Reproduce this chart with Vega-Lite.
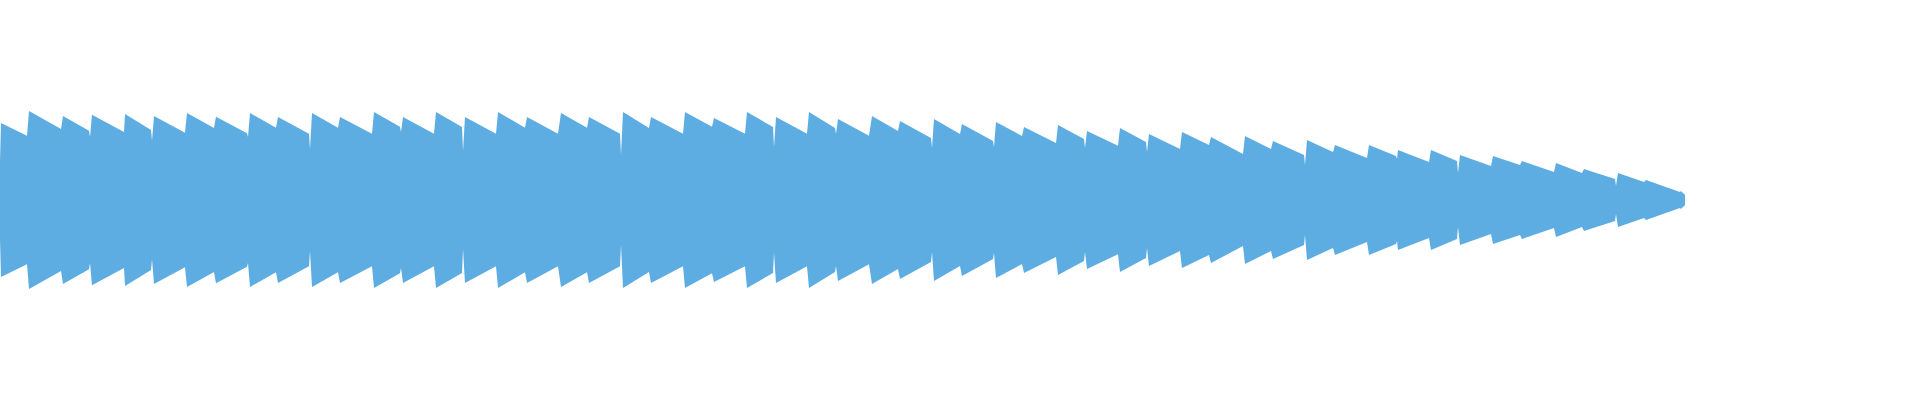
{
  "$schema": "https://vega.github.io/schema/vega-lite/v6.json",
  "width": 1920,
  "height": 400,
  "padding": 0,
  "autosize": {"type": "fit", "contains": "padding"},
  "background": "#ffffff",
  "config": {"view": {"stroke": null}},
  "data": {
    "values": [
      {"x": 0, "v": 78}, {"x": 1, "v": 154}, {"x": 27, "v": 128.6}, {"x": 29, "v": 178},
      {"x": 61, "v": 142}, {"x": 63, "v": 168}, {"x": 89, "v": 138.6}, {"x": 90, "v": 126},
      {"x": 92, "v": 170.6}, {"x": 124, "v": 136}, {"x": 125, "v": 172}, {"x": 151, "v": 140},
      {"x": 152, "v": 118.6}, {"x": 154, "v": 168}, {"x": 185, "v": 134.6}, {"x": 187, "v": 174},
      {"x": 214, "v": 144}, {"x": 216, "v": 166.6}, {"x": 247, "v": 133.4}, {"x": 248, "v": 126},
      {"x": 250, "v": 174}, {"x": 276, "v": 144.6}, {"x": 278, "v": 166}, {"x": 309, "v": 132.6},
      {"x": 310, "v": 102}, {"x": 312, "v": 174}, {"x": 338, "v": 144.6}, {"x": 340, "v": 166},
      {"x": 372, "v": 132.6}, {"x": 374, "v": 176}, {"x": 400, "v": 146.6}, {"x": 401, "v": 136},
      {"x": 403, "v": 166}, {"x": 434, "v": 132.6}, {"x": 436, "v": 176}, {"x": 462, "v": 146},
      {"x": 463, "v": 98}, {"x": 465, "v": 166}, {"x": 496, "v": 132.6}, {"x": 498, "v": 176},
      {"x": 525, "v": 144.6}, {"x": 527, "v": 166}, {"x": 558, "v": 132.6}, {"x": 561, "v": 174},
      {"x": 587, "v": 144.6}, {"x": 589, "v": 166}, {"x": 620, "v": 132.6}, {"x": 621, "v": 90},
      {"x": 623, "v": 176}, {"x": 649, "v": 144}, {"x": 651, "v": 166}, {"x": 683, "v": 132.6},
      {"x": 685, "v": 176}, {"x": 712, "v": 146.6}, {"x": 714, "v": 164}, {"x": 745, "v": 132.6},
      {"x": 747, "v": 176}, {"x": 773, "v": 146}, {"x": 774, "v": 106}, {"x": 776, "v": 166},
      {"x": 807, "v": 132.6}, {"x": 809, "v": 176}, {"x": 835, "v": 144}, {"x": 836, "v": 132},
      {"x": 838, "v": 162}, {"x": 869, "v": 128.6}, {"x": 872, "v": 168}, {"x": 898, "v": 138},
      {"x": 900, "v": 158}, {"x": 931, "v": 124}, {"x": 932, "v": 104}, {"x": 934, "v": 162},
      {"x": 960, "v": 132}, {"x": 962, "v": 152}, {"x": 993, "v": 118}, {"x": 994, "v": 106},
      {"x": 996, "v": 156}, {"x": 1022, "v": 128}, {"x": 1024, "v": 146}, {"x": 1056, "v": 114},
      {"x": 1058, "v": 150}, {"x": 1084, "v": 122}, {"x": 1085, "v": 104}, {"x": 1087, "v": 138},
      {"x": 1118, "v": 108.6}, {"x": 1120, "v": 144}, {"x": 1146, "v": 116}, {"x": 1147, "v": 96},
      {"x": 1149, "v": 132}, {"x": 1180, "v": 102}, {"x": 1182, "v": 136}, {"x": 1209, "v": 110},
      {"x": 1211, "v": 126}, {"x": 1243, "v": 92}, {"x": 1245, "v": 128}, {"x": 1271, "v": 102},
      {"x": 1273, "v": 118}, {"x": 1304, "v": 90}, {"x": 1305, "v": 70}, {"x": 1307, "v": 120},
      {"x": 1333, "v": 96}, {"x": 1335, "v": 110}, {"x": 1367, "v": 84}, {"x": 1369, "v": 110},
      {"x": 1396, "v": 88}, {"x": 1397, "v": 82}, {"x": 1398, "v": 100}, {"x": 1429, "v": 76},
      {"x": 1431, "v": 100}, {"x": 1457, "v": 78}, {"x": 1458, "v": 54}, {"x": 1460, "v": 90},
      {"x": 1491, "v": 68}, {"x": 1493, "v": 88}, {"x": 1520, "v": 70}, {"x": 1522, "v": 78},
      {"x": 1554, "v": 56}, {"x": 1556, "v": 74}, {"x": 1582, "v": 54}, {"x": 1584, "v": 62},
      {"x": 1615, "v": 42}, {"x": 1616, "v": 28}, {"x": 1618, "v": 54}, {"x": 1644, "v": 36},
      {"x": 1646, "v": 40}, {"x": 1680, "v": 16}, {"x": 1681, "v": 18}, {"x": 1685, "v": 10}
    ]
  },
  "mark": {"type": "area", "interpolate": "linear", "color": "#5DADE2"},
  "encoding": {
    "x": {
      "field": "x",
      "type": "quantitative",
      "scale": {"domain": [0, 1920], "nice": false, "zero": false},
      "axis": null
    },
    "y": {
      "field": "v",
      "type": "quantitative",
      "stack": "center",
      "scale": {"domain": [-111, 289], "nice": false, "zero": false},
      "axis": null
    }
  }
}
